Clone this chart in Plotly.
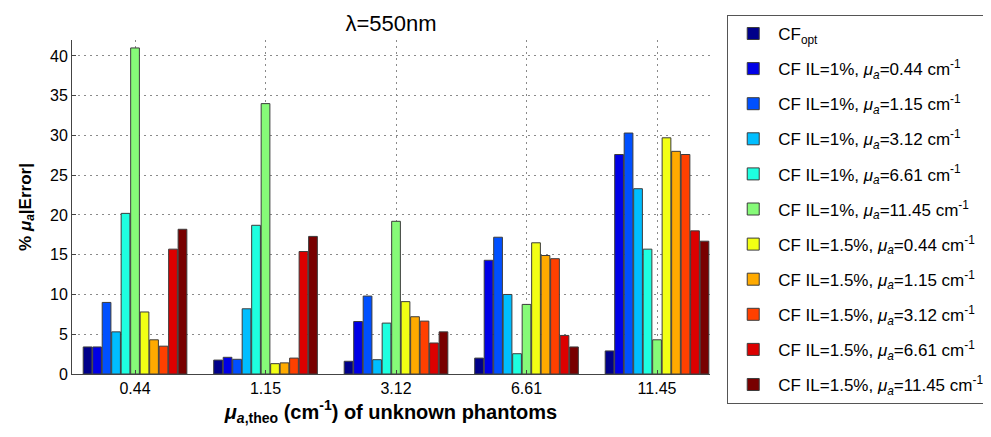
import plotly.graph_objects as go

categories = ["0.44", "1.15", "3.12", "6.61", "11.45"]

series_names = [
    "CF<sub>opt</sub>",
    "CF IL=1%, <i>μ</i><sub><i>a</i></sub>=0.44 cm<sup>-1</sup>",
    "CF IL=1%, <i>μ</i><sub><i>a</i></sub>=1.15 cm<sup>-1</sup>",
    "CF IL=1%, <i>μ</i><sub><i>a</i></sub>=3.12 cm<sup>-1</sup>",
    "CF IL=1%, <i>μ</i><sub><i>a</i></sub>=6.61 cm<sup>-1</sup>",
    "CF IL=1%, <i>μ</i><sub><i>a</i></sub>=11.45 cm<sup>-1</sup>",
    "CF IL=1.5%, <i>μ</i><sub><i>a</i></sub>=0.44 cm<sup>-1</sup>",
    "CF IL=1.5%, <i>μ</i><sub><i>a</i></sub>=1.15 cm<sup>-1</sup>",
    "CF IL=1.5%, <i>μ</i><sub><i>a</i></sub>=3.12 cm<sup>-1</sup>",
    "CF IL=1.5%, <i>μ</i><sub><i>a</i></sub>=6.61 cm<sup>-1</sup>",
    "CF IL=1.5%, <i>μ</i><sub><i>a</i></sub>=11.45 cm<sup>-1</sup>",
]

cf_opt          = [3.4, 1.75, 1.6, 2.0, 2.9]
il1_044         = [3.4, 2.1, 6.6, 14.3, 27.6]
il1_115         = [9.0, 1.85, 9.8, 17.2, 30.3]
il1_312         = [5.3, 8.2, 1.8, 10.0, 23.3]
il1_661         = [20.2, 18.7, 6.4, 2.55, 15.7]
il1_1145        = [41.0, 34.0, 19.2, 8.75, 4.3]
il15_044        = [7.8, 1.3, 9.1, 16.5, 29.7]
il15_115        = [4.3, 1.4, 7.2, 14.9, 28.0]
il15_312        = [3.5, 2.0, 6.65, 14.5, 27.6]
il15_661        = [15.7, 15.4, 3.9, 4.85, 18.0]
il15_1145       = [18.2, 17.3, 5.3, 3.4, 16.7]

series_values = [cf_opt, il1_044, il1_115, il1_312, il1_661, il1_1145,
                 il15_044, il15_115, il15_312, il15_661, il15_1145]

colors = ["#00008A", "#0000E6", "#0050FF", "#00BEFF", "#1EFFE0", "#86FA78",
          "#F2FF14", "#FFAA00", "#FF4000", "#DC0000", "#780000"]

y_ticks = [0, 5, 10, 15, 20, 25, 30, 35, 40]

FONT = "Arial, Liberation Sans, sans-serif"

fig = go.Figure()
for i, (name, vals, col) in enumerate(zip(series_names, series_values, colors)):
    fig.add_trace(go.Bar(
        x=categories, y=vals, name=name,
        marker=dict(color=col, line=dict(color="#3c3c3c", width=1)),
        legendgroup=f"g{i}",
    ))

fig.update_layout(
    width=983, height=429,
    margin=dict(l=64, r=281, t=32, b=63, autoexpand=False),
    paper_bgcolor="white", plot_bgcolor="white",
    barmode="group", bargap=0.2, bargroupgap=0.08,
    font=dict(family=FONT, size=14, color="black"),
    title=dict(text="λ=550nm", x=0.5, xref="paper", y=0.965, yanchor="middle",
               font=dict(size=22, family=FONT)),
    showlegend=True,
    legend=dict(
        x=1.027, xanchor="left", y=1.075, yanchor="top",
        bordercolor="#555", borderwidth=1, bgcolor="white",
        font=dict(size=17, family=FONT), itemwidth=40,
        tracegroupgap=10, traceorder="grouped", maxheight=429,
    ),
    xaxis=dict(
        type="category", range=[-0.483, 4.406], automargin=False,
        showline=True, linecolor="#444", linewidth=1,
        ticks="inside", ticklen=4, tickcolor="#444",
        showgrid=True, gridcolor="#8a8a8a", griddash="2px,4px", gridwidth=1,
        tickfont=dict(size=16),
        title=dict(text="<b><i>μ</i><sub><i>a</i>,theo</sub> (cm<sup>-1</sup>) of unknown phantoms</b>",
                   font=dict(size=20), standoff=6),
        zeroline=False,
    ),
    yaxis=dict(
        range=[0, 42], tickvals=y_ticks, automargin=False,
        showline=True, linecolor="#444", linewidth=1,
        ticks="inside", ticklen=4, tickcolor="#444",
        showgrid=True, gridcolor="#8a8a8a", griddash="2px,4px", gridwidth=1,
        tickfont=dict(size=16),
        title=dict(text="<b>% <i>μ</i><sub><i>a</i></sub>|Error|</b>",
                   font=dict(size=17), standoff=14),
        zeroline=False,
    ),
)

fig.write_html("out.html")
